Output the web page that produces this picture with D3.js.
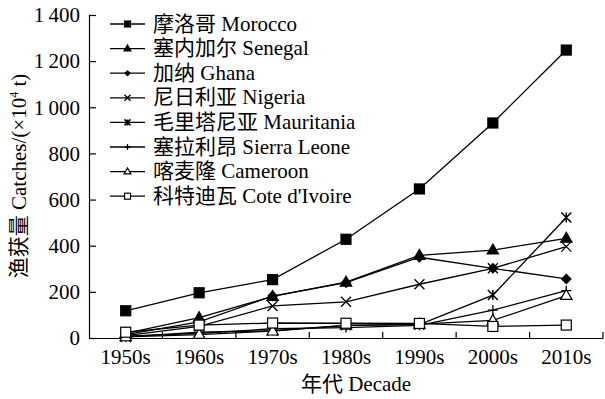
<!DOCTYPE html>
<html><head><meta charset="utf-8">
<script src="https://cdn.jsdelivr.net/npm/d3@7"></script>
<style>
html,body{margin:0;padding:0;background:#fff;}
text{font-family:"Liberation Serif","Times New Roman","Noto Sans CJK SC",serif;fill:#000;}
</style></head>
<body><svg id="c" width="605" height="399"></svg>
<script>
const decades = ["1950s","1960s","1970s","1980s","1990s","2000s","2010s"];
const yTicks = [0,200,400,600,800,1000,1200,1400];
const seriesNames = ["摩洛哥 Morocco","塞内加尔 Senegal","加纳 Ghana","尼日利亚 Nigeria","毛里塔尼亚 Mauritania","塞拉利昂 Sierra Leone","喀麦隆 Cameroon","科特迪瓦 Cote d'Ivoire"];
const morocco    = [118,196,253,428,646,932,1248];
const senegal    = [20,88,180,242,358,381,432];
const ghana      = [15,70,182,240,350,302,256];
const nigeria    = [10,50,139,157,233,302,396];
const mauritania = [5,25,32,55,58,186,522];
const sierraLeone= [8,20,40,45,55,121,205];
const cameroon   = [5,15,30,55,60,76,184];
const coteIvoire = [25,56,65,64,63,50,56];
const seriesValues = [morocco,senegal,ghana,nigeria,mauritania,sierraLeone,cameroon,coteIvoire];
const markers = ["sqf","trif","dia","x","ast","plus","trio","sqo"];

const FS = 21;
const svg = d3.select("#c");
const mLeft=89, mRight=603, mTop=15, mBottom=338;
const x = d3.scaleBand().domain(decades).range([mLeft,mRight]).paddingInner(0).paddingOuter(0);
const y = d3.scaleLinear().domain([0,1400]).range([mBottom,mTop]);
const cx = d => x(d)+x.bandwidth()/2;

function drawMarker(g, type, px, py, s){
  const h=s/2;
  if(type==="sqf"||type==="sqo"){
    g.append("rect").attr("x",px-h).attr("y",py-h).attr("width",s).attr("height",s)
     .attr("fill",type==="sqf"?"#000":"#fff").attr("stroke","#000").attr("stroke-width",1.2);
  } else if(type==="trif"||type==="trio"){
    const r=s*0.6;
    g.append("path").attr("d",`M${px},${py-r}L${px+r*0.95},${py+r*0.65}L${px-r*0.95},${py+r*0.65}Z`)
     .attr("fill",type==="trif"?"#000":"#fff").attr("stroke","#000").attr("stroke-width",1.2);
  } else if(type==="dia"){
    const r=s*0.55;
    g.append("path").attr("d",`M${px},${py-r}L${px+r},${py}L${px},${py+r}L${px-r},${py}Z`).attr("fill","#000");
  } else if(type==="x"){
    g.append("path").attr("d",`M${px-h},${py-h}L${px+h},${py+h}M${px-h},${py+h}L${px+h},${py-h}`)
     .attr("stroke","#000").attr("stroke-width",1.3).attr("fill","none");
  } else if(type==="ast"){
    g.append("path").attr("d",`M${px-h},${py-h}L${px+h},${py+h}M${px-h},${py+h}L${px+h},${py-h}M${px},${py-h}L${px},${py+h}`)
     .attr("stroke","#000").attr("stroke-width",1.5).attr("fill","none");
  } else if(type==="plus"){
    g.append("path").attr("d",`M${px-h},${py}L${px+h},${py}M${px},${py-h}L${px},${py+h}`)
     .attr("stroke","#000").attr("stroke-width",1.3).attr("fill","none");
  }
}

// axes
const yAxis = d3.axisLeft(y).tickValues(yTicks).tickSizeInner(-7).tickSizeOuter(0).tickPadding(9)
  .tickFormat(v => v>=1000 ? Math.floor(v/1000)+"\u2009"+d3.format("03d")(v%1000) : String(v));
const gy = svg.append("g").attr("transform",`translate(${mLeft},0)`).call(yAxis);
gy.selectAll("text").attr("font-size",FS).attr("font-family","'Liberation Serif',serif").attr("fill","#000");
gy.select(".domain").attr("stroke","#000").attr("stroke-width",1.2);
gy.selectAll(".tick line").attr("stroke","#000").attr("stroke-width",1.2);

const xAxis = d3.axisBottom(x).tickSize(0).tickPadding(11);
const gx = svg.append("g").attr("transform",`translate(0,${mBottom})`).call(xAxis);
gx.selectAll("text").attr("font-size",FS).attr("font-family","'Liberation Serif',serif").attr("fill","#000");
gx.select(".domain").attr("stroke","#000").attr("stroke-width",1.2);
gx.selectAll(".bt").data(decades).enter().append("line")
  .attr("x1",d=>x(d)+x.bandwidth()).attr("x2",d=>x(d)+x.bandwidth())
  .attr("y1",0).attr("y2",-6).attr("stroke","#000").attr("stroke-width",1.2);

// axis titles
const yt = svg.append("text").attr("transform","translate(26,176) rotate(-90)").attr("text-anchor","middle").attr("font-size",FS);
yt.append("tspan").text("渔获量 Catches/(×10");
yt.append("tspan").attr("dy",-8).attr("font-size",12).text("4");
yt.append("tspan").attr("dy",8).text(" t)");
svg.append("text").attr("x",cx("1980s")+10).attr("y",391).attr("text-anchor","middle").attr("font-size",FS).text("年代 Decade");

// lines
const line = d3.line().x((d,i)=>cx(decades[i])).y(d=>y(d));
const plot = svg.append("g");
seriesValues.forEach(vals=>{
  plot.append("path").attr("d",line(vals)).attr("fill","none").attr("stroke","#000").attr("stroke-width",1.3);
});
seriesValues.forEach((vals,k)=>{
  const g = plot.append("g");
  vals.forEach((v,i)=>drawMarker(g,markers[k],cx(decades[i]),y(v),10));
});

// legend
const lg = svg.append("g");
seriesNames.forEach((n,k)=>{
  const yy = 24 + k*24.6;
  lg.append("line").attr("x1",110).attr("x2",145).attr("y1",yy).attr("y2",yy).attr("stroke","#000").attr("stroke-width",1.3);
  drawMarker(lg,markers[k],127.5,yy,6);
  lg.append("text").attr("x",153).attr("y",yy+6.5).attr("font-size",FS).text(n);
});
</script></body></html>
